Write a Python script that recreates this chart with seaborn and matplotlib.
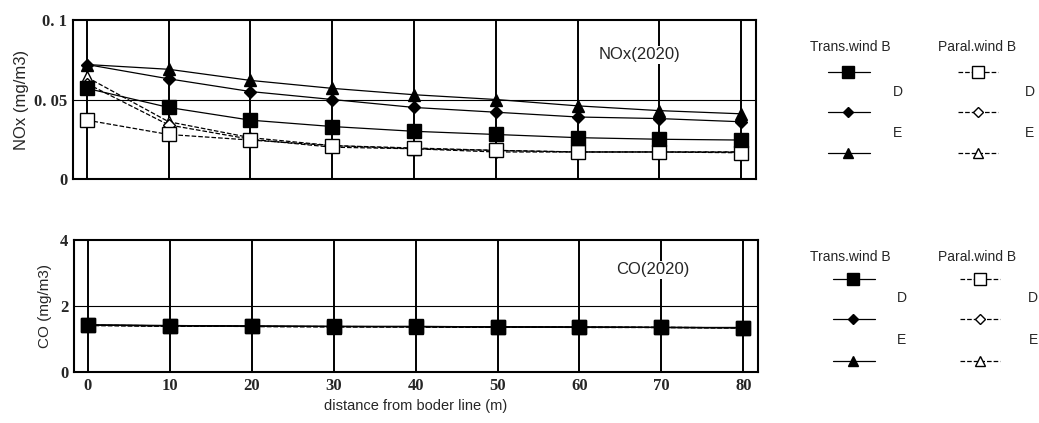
import matplotlib
matplotlib.use("Agg")
import matplotlib.pyplot as plt
import seaborn as sns
import pandas as pd

# distances (m)
distance = [0, 10, 20, 30, 40, 50, 60, 70, 80]

# NOx (mg/m3), 2020
nox_trans_b = [0.057, 0.045, 0.037, 0.033, 0.030, 0.028, 0.026, 0.025, 0.0245]
nox_trans_d = [0.072, 0.063, 0.055, 0.050, 0.045, 0.042, 0.039, 0.038, 0.036]
nox_trans_e = [0.072, 0.069, 0.062, 0.057, 0.053, 0.050, 0.046, 0.043, 0.041]
nox_paral_b = [0.037, 0.028, 0.0245, 0.021, 0.0195, 0.018, 0.017, 0.017, 0.0165]
nox_paral_d = [0.060, 0.034, 0.025, 0.020, 0.019, 0.017, 0.017, 0.017, 0.017]
nox_paral_e = [0.064, 0.036, 0.026, 0.021, 0.019, 0.018, 0.017, 0.017, 0.017]

# CO (mg/m3), 2020
co_trans_b = [1.42, 1.40, 1.39, 1.38, 1.38, 1.37, 1.36, 1.35, 1.34]
co_trans_d = [1.42, 1.40, 1.39, 1.38, 1.37, 1.36, 1.36, 1.35, 1.34]
co_trans_e = [1.43, 1.41, 1.39, 1.38, 1.38, 1.37, 1.36, 1.35, 1.35]
co_paral_b = [1.41, 1.39, 1.38, 1.37, 1.37, 1.36, 1.35, 1.35, 1.34]
co_paral_d = [1.41, 1.39, 1.38, 1.37, 1.37, 1.36, 1.35, 1.35, 1.34]
co_paral_e = [1.42, 1.40, 1.38, 1.38, 1.37, 1.36, 1.36, 1.35, 1.34]

series_names = ["Trans B", "Trans D", "Trans E", "Paral B", "Paral D", "Paral E"]
nox_values = [nox_trans_b, nox_trans_d, nox_trans_e, nox_paral_b, nox_paral_d, nox_paral_e]
co_values = [co_trans_b, co_trans_d, co_trans_e, co_paral_b, co_paral_d, co_paral_e]

styles = {
    "Trans B": dict(marker="s", ls="-", mfc="black", ms=10),
    "Trans D": dict(marker="D", ls="-", mfc="black", ms=6),
    "Trans E": dict(marker="^", ls="-", mfc="black", ms=8),
    "Paral B": dict(marker="s", ls="--", mfc="white", ms=10),
    "Paral D": dict(marker="D", ls="--", mfc="white", ms=6),
    "Paral E": dict(marker="^", ls="--", mfc="white", ms=8),
}

rows = []
for name, nv, cv in zip(series_names, nox_values, co_values):
    for d, n, c in zip(distance, nv, cv):
        rows.append(dict(distance=d, series=name, NOx=n, CO=c))
df = pd.DataFrame(rows)

sns.set_style("white")
plt.rcParams["font.family"] = ["Liberation Sans", "DejaVu Sans"]

fig = plt.figure(figsize=(10.39, 4.23), dpi=100)
ax1 = fig.add_axes([73 / 1039, 1 - 179 / 423, 683 / 1039, 159 / 423])
ax2 = fig.add_axes([74 / 1039, 1 - 372 / 423, 684 / 1039, 132 / 423])

tick_font = dict(family="Liberation Serif", size=12, weight="bold")


def draw_panel(ax, col, ylim, yticks, yticklabels, hline, title, title_xy):
    # vertical grid lines at each distance, horizontal at mid value
    for d in distance:
        ax.axvline(d, color="black", lw=1.4, zorder=0)
    ax.axhline(hline, color="black", lw=0.8, zorder=0)
    # parallel-wind series first so the filled markers sit on top
    for name in reversed(series_names):
        st = styles[name]
        sub = df[df["series"] == name]
        sns.lineplot(data=sub, x="distance", y=col, ax=ax, color="black",
                     lw=0.9, linestyle=st["ls"], marker=st["marker"],
                     markersize=st["ms"], markerfacecolor=st["mfc"],
                     markeredgecolor="black", markeredgewidth=1.0,
                     legend=False, zorder=3)
    ax.set_xlim(-1.7, 81.8)
    ax.set_ylim(*ylim)
    ax.set_yticks(yticks)
    ax.set_yticklabels(yticklabels, fontdict=tick_font)
    ax.set_xticks(distance)
    ax.tick_params(length=0, pad=4)
    for sp in ax.spines.values():
        sp.set_color("black")
        sp.set_linewidth(1.5)
    ax.text(title_xy[0], title_xy[1], title, fontsize=12, ha="center",
            va="center", zorder=2,
            bbox=dict(facecolor="white", edgecolor="none", pad=1))


draw_panel(ax1, "NOx", (0, 0.1), [0, 0.05, 0.1], ["0", "0. 05", "0. 1"],
           0.05, "NOx(2020)", (67.6, 0.078))
ax1.set_xticklabels([])
ax1.set_xlabel("")
ax1.set_ylabel("NOx (mg/m3)", fontsize=12, labelpad=4)

draw_panel(ax2, "CO", (0, 4), [0, 2, 4], ["0", "2", "4"],
           2, "CO(2020)", (68.9, 3.1))
ax2.set_xticklabels([str(d) for d in distance], fontdict=tick_font)
ax2.set_xlabel("distance from boder line (m)", fontsize=10.5, labelpad=4)
ax2.set_ylabel("CO (mg/m3)", fontsize=11, labelpad=6)

# custom legend blocks on the right (pixel coordinates of the figure)
lg = fig.add_axes([0, 0, 1, 1])
lg.set_xlim(0, 1039)
lg.set_ylim(423, 0)
lg.axis("off")


def legend_block(y_head, y_rows, y_labels, trans_x, paral_x, lab_x):
    lg.text(850, y_head, "Trans.wind B", ha="center", va="center", fontsize=10)
    lg.text(977, y_head, "Paral.wind B", ha="center", va="center", fontsize=10)
    for i, y in enumerate(y_rows):
        t = styles[series_names[i]]
        p = styles[series_names[i + 3]]
        lg.plot([trans_x - 20, trans_x + 22], [y, y], color="black", lw=0.9,
                ls="-")
        lg.plot([trans_x], [y], color="black", marker=t["marker"],
                ms=t["ms"] - 1, mfc=t["mfc"], mec="black", ls="none")
        lg.plot([paral_x - 20, paral_x + 20], [y, y], color="black", lw=0.9,
                ls="--")
        lg.plot([paral_x], [y], color="black", marker=p["marker"],
                ms=p["ms"] - 1, mfc="white", mec="black", ls="none")
    for lab, y in zip(["D", "E"], y_labels):
        lg.text(lab_x[0], y, lab, ha="center", va="center", fontsize=10)
        lg.text(lab_x[1], y, lab, ha="center", va="center", fontsize=10)


legend_block(47, [72, 112, 153], [92, 133], 848, 978, (898, 1030))
legend_block(257, [279, 319, 361], [298, 340], 853, 980, (902, 1033))

fig.savefig("out.png", dpi=100)
